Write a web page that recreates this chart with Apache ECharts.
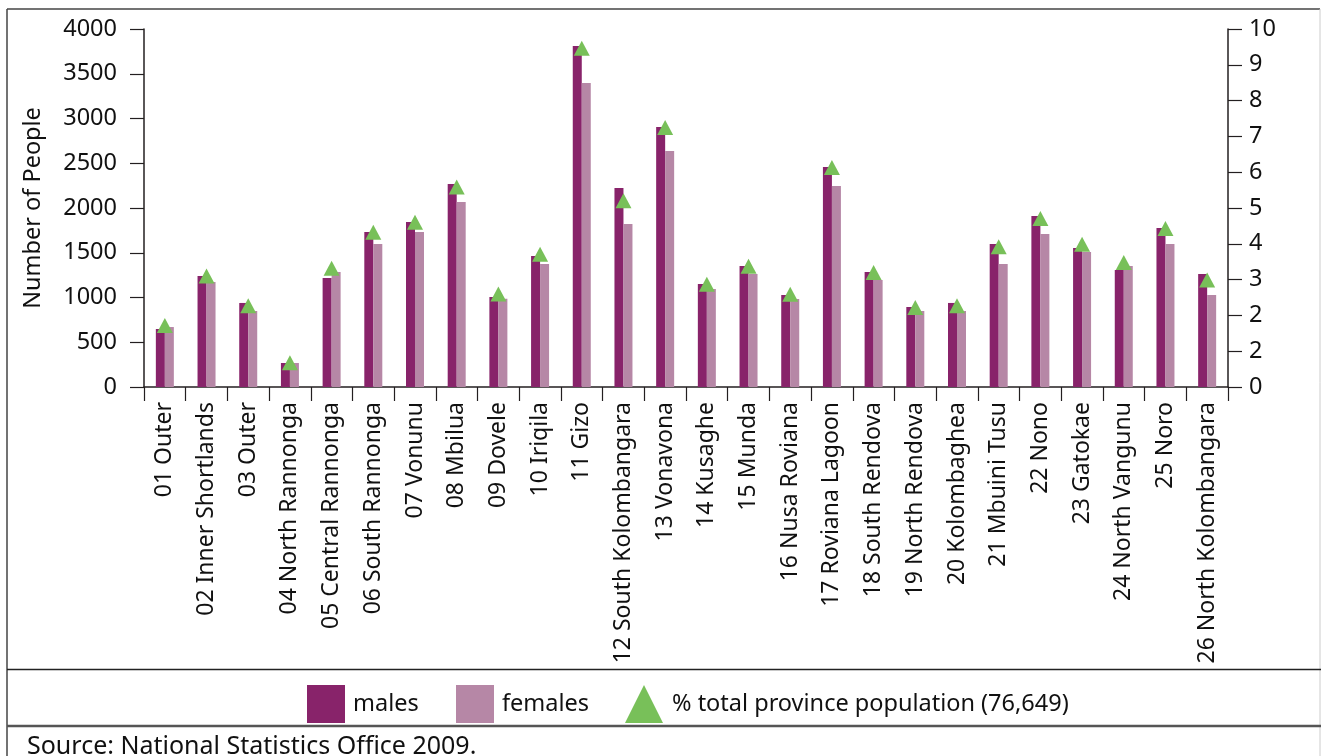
<!DOCTYPE html>
<html>
<head>
<meta charset="utf-8">
<script src="https://cdn.jsdelivr.net/npm/echarts@6/dist/echarts.min.js"></script>
<style>
html,body{margin:0;padding:0;background:#fff;}
#chart{width:1321px;height:756px;}
</style>
</head>
<body>
<div id="chart"></div>
<script>
var categories = ['01 Outer','02 Inner Shortlands','03 Outer','04 North Rannonga','05 Central Rannonga','06 South Rannonga','07 Vonunu','08 Mbilua','09 Dovele','10 Iriqila','11 Gizo','12 South Kolombangara','13 Vonavona','14 Kusaghe','15 Munda','16 Nusa Roviana','17 Roviana Lagoon','18 South Rendova','19 North Rendova','20 Kolombaghea','21 Mbuini Tusu','22 Nono','23 Gatokae','24 North Vangunu','25 Noro','26 North Kolombangara'];
var males = [648,1240,939,268,1218,1732,1844,2268,1006,1464,3810,2223,2905,1151,1352,1028,2458,1285,894,939,1598,1911,1553,1307,1777,1263];
var females = [670,1173,849,268,1285,1598,1732,2067,985,1374,3397,1821,2637,1095,1263,983,2246,1196,849,849,1374,1709,1508,1352,1598,1028];
var pctTotal = [1.72,3.1,2.27,0.68,3.32,4.32,4.6,5.59,2.6,3.71,9.46,5.2,7.25,2.87,3.37,2.59,6.13,3.2,2.22,2.27,3.92,4.71,3.99,3.48,4.43,2.99];
var leftTicks = ['0','500','1000','1500','2000','2500','3000','3500','4000'];
var rightTicks = ['0','2','2','3','4','5','6','7','8','9','10'];

var FONT = 'Noto Sans';
var AXIS = '#231f20';
var cMale = '#88236a';
var cFemale = '#b687a6';
var cGreen = '#78c059';

var chart = echarts.init(document.getElementById('chart'));
chart.setOption({
  animation: false,
  backgroundColor: '#fff',
  textStyle: {fontFamily: FONT},
  grid: {left: 144, right: 93, top: 29, height: 358, containLabel: false},
  legend: [
    {data: [{name: 'males', icon: 'rect'}], left: 302, top: 680, itemWidth: 38, itemHeight: 38,
     textStyle: {fontFamily: FONT, fontSize: 23.5, color: '#111', padding: [0,0,0,3]}},
    {data: [{name: 'females', icon: 'rect'}], left: 451, top: 680, itemWidth: 38, itemHeight: 38,
     textStyle: {fontFamily: FONT, fontSize: 23.5, color: '#111', padding: [0,0,0,3]}},
    {data: [{name: '% total province population (76,649)', icon: 'triangle', itemStyle: {opacity: 1}}], left: 620, top: 680, itemWidth: 38, itemHeight: 38,
     textStyle: {fontFamily: FONT, fontSize: 23.5, color: '#111', padding: [0,0,0,4]}}
  ],
  xAxis: {
    type: 'category',
    data: categories,
    axisLine: {lineStyle: {color: AXIS, width: 1.5}},
    axisTick: {show: true, length: 14, lineStyle: {color: AXIS, width: 1.2}},
    axisLabel: {rotate: 90, margin: 15, interval: 0, fontFamily: FONT, fontSize: 23, color: '#111'}
  },
  yAxis: [
    {
      type: 'value', min: 0, max: 4000, interval: 500,
      name: 'Number of People', nameLocation: 'middle', nameGap: 99,
      nameTextStyle: {fontFamily: FONT, fontSize: 23.5, color: '#111'},
      axisLine: {show: true, lineStyle: {color: AXIS, width: 1.5}},
      axisTick: {show: true, length: 14, lineStyle: {color: AXIS, width: 1.2}},
      splitLine: {show: false},
      axisLabel: {margin: 27, fontFamily: FONT, fontSize: 23.5, color: '#111',
        formatter: function (v) { return leftTicks[Math.round(v / 500)]; }}
    },
    {
      type: 'value', min: 0, max: 10, interval: 1, position: 'right',
      axisLine: {show: true, lineStyle: {color: AXIS, width: 1.5}},
      axisTick: {show: true, length: 14, lineStyle: {color: AXIS, width: 1.2}},
      splitLine: {show: false},
      axisLabel: {margin: 21, fontFamily: FONT, fontSize: 23.5, color: '#111',
        formatter: function (v) { return rightTicks[Math.round(v)]; }}
    }
  ],
  series: [
    {name: 'males', type: 'bar', data: males, barWidth: 9, barGap: '0%', itemStyle: {color: cMale}},
    {name: 'females', type: 'bar', data: females, barWidth: 9, barGap: '0%', itemStyle: {color: cFemale}},
    {name: '% total province population (76,649)', type: 'scatter', yAxisIndex: 1, data: pctTotal,
     symbol: 'triangle', symbolSize: [16, 15], itemStyle: {color: cGreen, opacity: 1}, z: 5}
  ],
  graphic: [
    {type: 'line', shape: {x1: 7, y1: 9, x2: 1320, y2: 9}, style: {stroke: '#444', lineWidth: 1.5}, silent: true},
    {type: 'line', shape: {x1: 7, y1: 9, x2: 7, y2: 756}, style: {stroke: '#444', lineWidth: 1.5}, silent: true},
    {type: 'line', shape: {x1: 1320, y1: 9, x2: 1320, y2: 756}, style: {stroke: '#ccc', lineWidth: 1}, silent: true},
    {type: 'line', shape: {x1: 7, y1: 669.5, x2: 1321, y2: 669.5}, style: {stroke: '#222', lineWidth: 1.5}, silent: true},
    {type: 'line', shape: {x1: 7, y1: 726, x2: 1321, y2: 726}, style: {stroke: '#555', lineWidth: 2.5}, silent: true},
    {type: 'text', left: 27, top: 734, style: {text: 'Source: National Statistics Office 2009.', fontFamily: FONT, fontSize: 25, fill: '#111'}, silent: true}
  ]
});
</script>
</body>
</html>
